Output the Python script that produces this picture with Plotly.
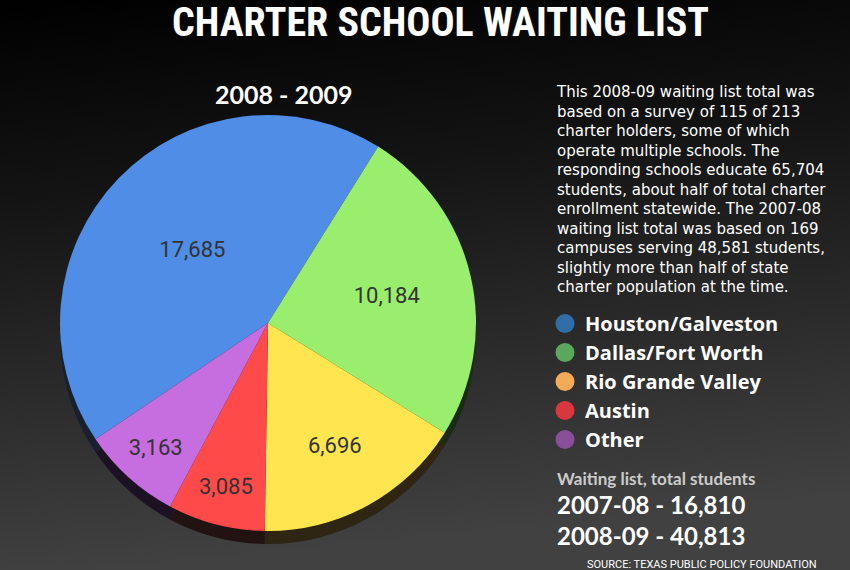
import base64
import plotly.graph_objects as go

W, H = 850, 570

regions = ["Houston/Galveston", "Dallas/Fort Worth", "Rio Grande Valley", "Austin", "Other"]
waiting = [17685, 10184, 6696, 3085, 3163]
pie_colors = ["#4f8de6", "#9aee6e", "#ffe650", "#ff4a4a", "#c66ee0"]
side_colors = ["#18202e", "#1c2a16", "#2e2512", "#231212", "#1d1224"]
legend_colors = ["#2f6ea6", "#5aa85c", "#f5aa57", "#d9373f", "#8a4f9b"]

note_lines = [
    "This 2008-09 waiting list total was",
    "based on a survey of 115 of 213",
    "charter holders, some of which",
    "operate multiple schools. The",
    "responding schools educate 65,704",
    "students, about half of total charter",
    "enrollment statewide. The 2007-08",
    "waiting list total was based on 169",
    "campuses serving 48,581 students,",
    "slightly more than half of state",
    "charter population at the time.",
]
totals_title = "Waiting list, total students"
totals = ["2007-08 - 16,810", "2008-09 - 40,813"]


def px(x, y):
    return x / W, 1 - y / H


# pie placement in pixels (circle)
cx, cy, r = 268, 323, 208


def dom(cx, cy, r):
    return dict(x=[(cx - r) / W, (cx + r) / W], y=[1 - (cy + r) / H, 1 - (cy - r) / H])


fig = go.Figure()

# dark "side" of the 3d pie
fig.add_trace(go.Pie(
    labels=regions, values=waiting, sort=False, direction="clockwise", rotation=-124,
    domain=dom(cx, cy + 13, r), marker=dict(colors=side_colors, line=dict(width=0)),
    textinfo="none", hoverinfo="skip", showlegend=False,
))

fig.add_trace(go.Pie(
    labels=regions, values=waiting, sort=False, direction="clockwise", rotation=-124,
    domain=dom(cx, cy, r), marker=dict(colors=pie_colors, line=dict(width=0)),
    texttemplate="%{value:,}", textposition="inside", insidetextorientation="horizontal",
    textfont=dict(family="Roboto", size=22, color="#333333"),
    showlegend=False,
))

# legend entries (legend dots use different colours than the slices)
for name, c in zip(regions, legend_colors):
    fig.add_trace(go.Scatter(
        x=[None], y=[None], mode="markers", name=name,
        marker=dict(color=c, size=16, line=dict(color=c, width=3)),
    ))

svg = ('<svg xmlns="http://www.w3.org/2000/svg" width="850" height="570" preserveAspectRatio="none">'
       '<defs><linearGradient id="g" x1="0" y1="0" x2="0.15" y2="1">'
       '<stop offset="0" stop-color="#000000"/><stop offset="0.35" stop-color="#141414"/>'
       '<stop offset="1" stop-color="#414141"/></linearGradient></defs>'
       '<rect width="850" height="570" fill="url(#g)"/></svg>')
bg = "data:image/svg+xml;base64," + base64.b64encode(svg.encode()).decode()


def note(xp, yp, text, font, xanchor="left", yanchor="middle", align="left"):
    x, y = px(xp, yp)
    return dict(x=x, y=y, xref="paper", yref="paper", text=text, showarrow=False,
                xanchor=xanchor, yanchor=yanchor, align=align, font=font)


ann = [
    note(440, 22, "<b>CHARTER SCHOOL WAITING LIST</b>",
         dict(family="Liberation Sans Narrow, Roboto Condensed, Roboto", size=40, color="white"),
         xanchor="center"),
    note(283, 94, "<b>2008 - 2009</b>", dict(family="Lato", size=25, color="white"), xanchor="center"),
    note(554, 81, "<br>".join(note_lines), dict(family="DejaVu Sans", size=15, color="white"),
         yanchor="top"),
    note(555, 479, "<b>" + totals_title + "</b>", dict(family="Lato", size=17, color="#cccccc")),
    note(555, 520, "<b>" + "<br>".join(totals) + "</b>", dict(family="Lato", size=24, color="white")),
    note(585, 556, "SOURCE: TEXAS PUBLIC POLICY FOUNDATION",
         dict(family="Roboto", size=11, color="white"), yanchor="top"),
]

lx, ly = px(545, 304)
fig.update_layout(
    width=W, height=H, margin=dict(l=0, r=0, t=0, b=0),
    paper_bgcolor="#1a1a1a", plot_bgcolor="rgba(0,0,0,0)",
    xaxis=dict(visible=False), yaxis=dict(visible=False),
    images=[dict(source=bg, xref="paper", yref="paper", x=0, y=1, sizex=1, sizey=1,
                 sizing="stretch", layer="below", xanchor="left", yanchor="top")],
    legend=dict(x=lx, y=ly, xanchor="left", yanchor="top", bgcolor="rgba(0,0,0,0)",
                font=dict(family="Open Sans", size=20, color="white", weight="bold"),
                itemsizing="trace", tracegroupgap=0),
    annotations=ann,
)

fig.write_html("out.html", config={"displayModeBar": False},
               post_script="document.body.style.margin='0';")
